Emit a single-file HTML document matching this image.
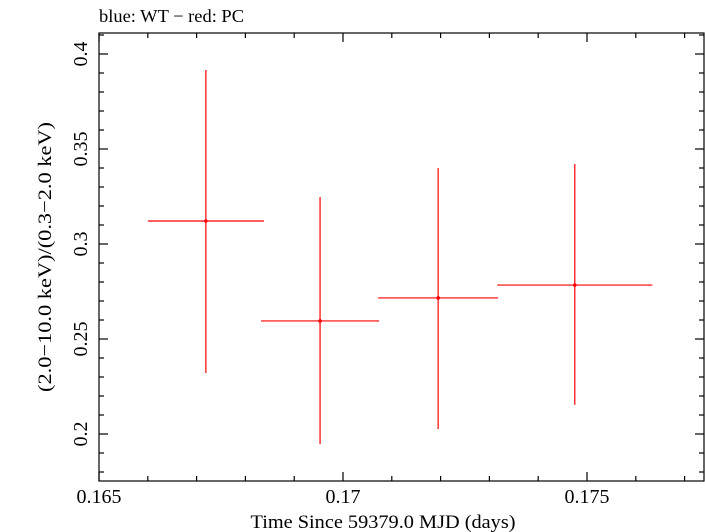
<!DOCTYPE html>
<html><head><meta charset="utf-8"><style>
body{margin:0;background:#fff;}
svg{display:block;font-family:"Liberation Serif",serif;}
</style></head><body>
<svg id="chart" width="705" height="532" viewBox="0 0 705 532" xmlns="http://www.w3.org/2000/svg">
<text x="99" y="22" font-size="18" textLength="145" lengthAdjust="spacingAndGlyphs">blue: WT − red: PC</text>
<rect x="99" y="33" width="605" height="448" fill="none" stroke="#000" stroke-width="1.2"/>
<g id="axes"></g>
<g id="series"></g>
<text x="383" y="528" font-size="19" text-anchor="middle" textLength="265" lengthAdjust="spacingAndGlyphs">Time Since 59379.0 MJD (days)</text>
<text transform="translate(51,257) rotate(-90)" font-size="19" text-anchor="middle" textLength="270" lengthAdjust="spacingAndGlyphs">(2.0−10.0 keV)/(0.3−2.0 keV)</text>
</svg>
<script>
const times=[0.16719,0.16953,0.17195,0.17475];
const timeErr=[0.00119,0.00121,0.00123,0.00159];
const ratios=[0.3121,0.2595,0.2716,0.2784];
const ratioUp=[0.3916,0.3247,0.340,0.3421];
const ratioLo=[0.2321,0.1947,0.2026,0.2153];
const xTicks=[0.165,0.17,0.175];
const xTickLabels=["0.165","0.17","0.175"];
const yTicks=[0.2,0.25,0.3,0.35,0.4];
const yTickLabels=["0.2","0.25","0.3","0.35","0.4"];
const X0=99,X1=704,Y0=481,Y1=33;
const xMin=0.165,xMax=0.165+(X1-X0)/48800;
const yMin=0.2-(Y0-434)/1900,yMax=0.2+(434-Y1)/1900;
const xs=v=>X0+(v-xMin)/(xMax-xMin)*(X1-X0);
const ys=v=>Y0-(v-yMin)/(yMax-yMin)*(Y0-Y1);
const NS="http://www.w3.org/2000/svg";
function mk(tag,attrs,parent){const e=document.createElementNS(NS,tag);for(const k in attrs)e.setAttribute(k,attrs[k]);parent.appendChild(e);return e;}
const axes=document.getElementById('axes'),ser=document.getElementById('series');
for(let v=0.165;v<=xMax+1e-9;v+=0.001){const x=xs(v);const major=xTicks.some(t=>Math.abs(t-v)<1e-7);const L=major?9:5;
const a=mk('line',{x1:x,x2:x,y1:Y0,y2:Y0-L,stroke:'#000','stroke-width':1.2},axes);


const b=mk('line',{x1:x,x2:x,y1:Y1,y2:Y1+L,stroke:'#000','stroke-width':1.2},axes);

}
for(let v=0.18;v<=yMax+1e-9;v+=0.01){const y=ys(v);const major=yTicks.some(t=>Math.abs(t-v)<1e-7);const L=major?9:5;
const a=mk('line',{x1:X0,x2:X0+L,y1:y,y2:y,stroke:'#000','stroke-width':1.2},axes);


const b=mk('line',{x1:X1,x2:X1-L,y1:y,y2:y,stroke:'#000','stroke-width':1.2},axes);

}
xTicks.forEach((t,i)=>{const e=mk('text',{x:xs(t),y:503,'font-size':20,'text-anchor':'middle'},axes);e.textContent=xTickLabels[i];

});
yTicks.forEach((t,i)=>{const y=ys(t);const e=mk('text',{transform:`translate(87,${y}) rotate(-90)`,'font-size':20,'text-anchor':'middle'},axes);e.textContent=yTickLabels[i];

});
times.forEach((t,i)=>{const x=xs(t),y=ys(ratios[i]);
const h=mk('line',{x1:xs(t-timeErr[i]),x2:xs(t+timeErr[i]),y1:y,y2:y,stroke:'#f00','stroke-width':1.2},ser);


const v=mk('line',{x1:x,x2:x,y1:ys(ratioUp[i]),y2:ys(ratioLo[i]),stroke:'#f00','stroke-width':1.2},ser);


const c=mk('circle',{cx:x,cy:y,r:1.8,fill:'#f00'},ser);

});
</script>
</body></html>
